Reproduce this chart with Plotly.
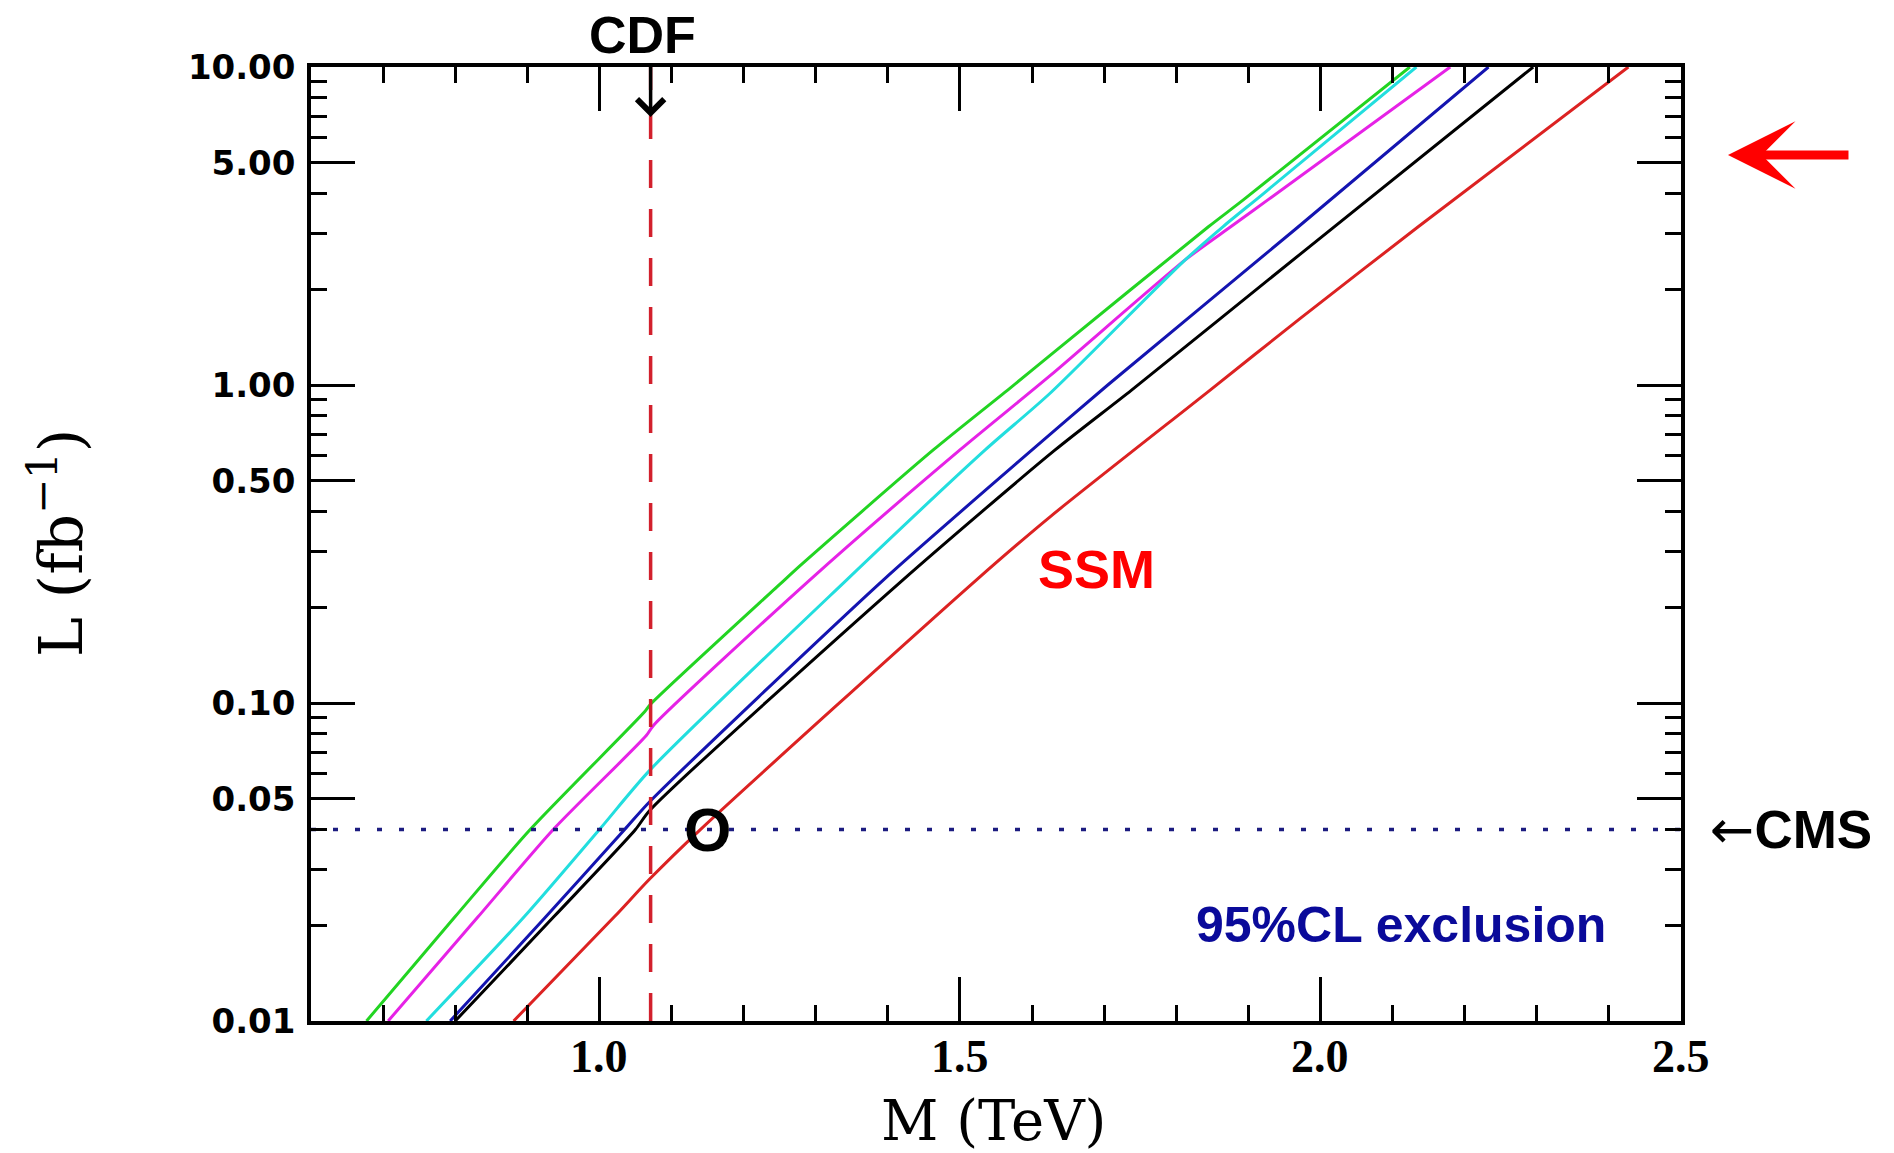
import plotly.graph_objects as go
import math

# ---------------- data ----------------
green_m = [0.677, 0.800, 0.904, 1.063, 1.070, 1.250, 1.278, 1.463, 1.570, 1.625, 1.845, 1.893, 2.124]
green_l = [0.010, 0.0213, 0.040, 0.094, 0.0986, 0.236, 0.270, 0.625, 0.98, 1.24, 3.15, 3.82, 10.0]

magenta_m = [0.707, 0.832, 0.936, 1.065, 1.075, 1.292, 1.500, 1.625, 1.812, 1.876, 1.927, 2.180]
magenta_l = [0.010, 0.0213, 0.040, 0.079, 0.085, 0.244, 0.625, 1.07, 2.47, 3.15, 3.82, 10.0]

cyan_m = [0.760, 0.896, 1.000, 1.070, 1.343, 1.535, 1.625, 1.812, 1.865, 1.921, 2.133]
cyan_l = [0.010, 0.0213, 0.040, 0.0615, 0.244, 0.625, 0.942, 2.47, 3.15, 4.0, 10.0]

blue_m = [0.793, 0.926, 1.035, 1.070, 1.394, 1.600, 1.705, 1.966, 2.233]
blue_l = [0.010, 0.0213, 0.040, 0.049, 0.244, 0.625, 1.00, 3.10, 10.0]

black_m = [0.800, 0.937, 1.050, 1.070, 1.421, 1.632, 1.738, 1.972, 2.295]
black_l = [0.010, 0.0213, 0.040, 0.046, 0.244, 0.625, 0.964, 2.58, 10.0]

red_m = [0.881, 1.021, 1.070, 1.140, 1.523, 1.625, 1.847, 1.972, 2.136, 2.427]
red_l = [0.010, 0.0213, 0.028, 0.040, 0.244, 0.385, 0.964, 1.62, 3.15, 10.0]

cdf_mass = 1.071          # TeV, CDF limit (vertical dashed line)
cms_lumi = 0.04           # fb^-1, CMS luminosity (horizontal dotted line)
ssm_cross_m = 1.15        # position of the "O" marker label

x_range = [0.6, 2.5]
y_range = [0.01, 10.0]

x_tickvals = [1.0, 1.5, 2.0, 2.5]
x_ticktext = ["1.0", "1.5", "2.0", "2.5"]
x_minor = [0.7, 0.8, 0.9, 1.1, 1.2, 1.3, 1.4, 1.6, 1.7, 1.8, 1.9, 2.1, 2.2, 2.3, 2.4]

y_tickvals = [0.01, 0.05, 0.1, 0.5, 1.0, 5.0, 10.0]
y_ticktext = ["0.01", "0.05", "0.10", "0.50", "1.00", "5.00", "10.00"]
y_minor = [0.02, 0.03, 0.04, 0.06, 0.07, 0.08, 0.09,
           0.2, 0.3, 0.4, 0.6, 0.7, 0.8, 0.9,
           2, 3, 4, 6, 7, 8, 9]

# ---------------- figure ----------------
fig = go.Figure()

series = [
    (green_m, green_l, "#22d422"),
    (magenta_m, magenta_l, "#e622e6"),
    (cyan_m, cyan_l, "#22dede"),
    (blue_m, blue_l, "#1414b0"),
    (black_m, black_l, "#000000"),
    (red_m, red_l, "#dc2222"),
]
for m, l, c in series:
    fig.add_trace(go.Scatter(x=m, y=l, mode="lines",
                             line=dict(color=c, width=3, shape="spline", smoothing=0.7),
                             showlegend=False, hoverinfo="skip"))

# CMS dotted horizontal line
fig.add_trace(go.Scatter(x=x_range, y=[cms_lumi, cms_lumi], mode="lines",
                         line=dict(color="#1c1c80", width=3.5, dash="5px,17px"),
                         showlegend=False, hoverinfo="skip"))
# CDF dashed vertical line
fig.add_trace(go.Scatter(x=[cdf_mass, cdf_mass], y=y_range, mode="lines",
                         line=dict(color="#d2202c", width=3.5, dash="28px,21px"),
                         showlegend=False, hoverinfo="skip"))

L = 311; R = 1894 - 1681; T = 67; B = 1153 - 1021

fig.update_layout(
    width=1894, height=1153,
    margin=dict(l=L, r=R, t=T, b=B, pad=0),
    paper_bgcolor="white", plot_bgcolor="white",
    showlegend=False,
)

axis_common = dict(showline=True, linecolor="black", linewidth=3.5, mirror="ticks",
                   ticks="inside", tickcolor="black", tickwidth=3, ticklen=44,
                   showgrid=False, zeroline=False)

fig.update_xaxes(range=x_range, tickmode="array", tickvals=x_tickvals, ticktext=x_ticktext,
                 showticklabels=False,
                 minor=dict(tickvals=x_minor, ticks="inside", ticklen=16, tickwidth=3,
                            tickcolor="black", showgrid=False),
                 **axis_common)
fig.update_yaxes(type="log", range=[math.log10(y_range[0]), math.log10(y_range[1])],
                 tickmode="array", tickvals=y_tickvals, ticktext=y_ticktext,
                 tickfont=dict(family="DejaVu Sans", size=34, color="black", weight="bold"),
                 ticklabelstandoff=5,
                 minor=dict(tickvals=y_minor, ticks="inside", ticklen=16, tickwidth=3,
                            tickcolor="black", showgrid=False),
                 **axis_common)

ann = []
# x tick labels (placed just under the frame, as in the original)
for v, t in zip(x_tickvals, x_ticktext):
    ann.append(dict(text=t, xref="x", yref="paper", x=v, y=-0.0377,
                    xanchor="center", yanchor="middle", showarrow=False,
                    font=dict(family="Liberation Serif", size=46, color="black", weight="bold")))
# axis titles
ann.append(dict(text="M (TeV)", xref="paper", yref="paper", x=0.4985, y=-0.1038,
                xanchor="center", yanchor="middle", showarrow=False,
                font=dict(family="DejaVu Serif", size=56, color="black")))
ann.append(dict(text="L (fb<sup>\u22121</sup>)", xref="paper", yref="paper", x=-0.1854, y=0.501,
                xanchor="center", yanchor="middle", showarrow=False, textangle=-90,
                font=dict(family="DejaVu Serif", size=60, color="black")))
# labels
ann.append(dict(text="SSM", xref="x", yref="y", x=1.689, y=-0.579, showarrow=False,
                xanchor="center", yanchor="middle",
                font=dict(family="Liberation Sans", size=54, color="#ff0000", weight="bold")))
ann.append(dict(text="95%CL exclusion", xref="x", yref="y", x=2.112, y=-1.698, showarrow=False,
                xanchor="center", yanchor="middle",
                font=dict(family="Liberation Sans", size=50, color="#0a0a9a", weight="bold")))
ann.append(dict(text="O", xref="x", yref="y", x=ssm_cross_m, y=math.log10(cms_lumi), showarrow=False,
                xanchor="center", yanchor="middle",
                font=dict(family="Liberation Sans", size=61, color="black", weight="bold")))
ann.append(dict(text="CDF", xref="x", yref="paper", x=1.060, y=1.0335, showarrow=False,
                xanchor="center", yanchor="middle",
                font=dict(family="Liberation Sans", size=52, color="black", weight="bold")))
# CDF arrow
ann.append(dict(text="", xref="x", yref="paper", x=cdf_mass, y=0.9476, ax=0, ay=-52,
                showarrow=True, arrowhead=4, arrowwidth=3.5, arrowsize=1.5, arrowcolor="black"))
ann.append(dict(text="<span style='font-family:DejaVu Sans;font-weight:normal'>\u2190</span>CMS",
                xref="paper", yref="y", x=1.0800, y=math.log10(cms_lumi),
                showarrow=False, xanchor="center", yanchor="middle",
                font=dict(family="Liberation Sans", size=53, color="black", weight="bold")))
# big red arrow
ann.append(dict(text="", xref="paper", yref="paper", x=1.0343, y=0.9078, ax=122, ay=0,
                showarrow=True, arrowhead=3, arrowwidth=9, arrowsize=1.25, arrowcolor="#ff0000"))

fig.update_layout(annotations=ann)

fig.write_html("out.html")
